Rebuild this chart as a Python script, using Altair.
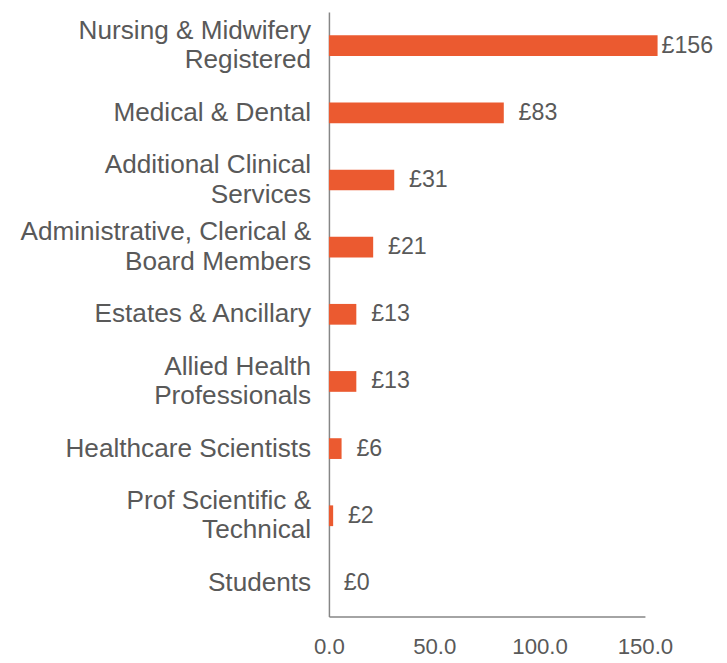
import altair as alt
import pandas as pd

categories = [
    "Nursing & Midwifery|Registered",
    "Medical & Dental",
    "Additional Clinical|Services",
    "Administrative, Clerical &|Board Members",
    "Estates & Ancillary",
    "Allied Health|Professionals",
    "Healthcare Scientists",
    "Prof Scientific &|Technical",
    "Students",
]
values = [156, 83, 31, 21, 13, 13, 6, 2, 0]
x_ticks = [0, 50, 100, 150]

df = pd.DataFrame({"category": categories, "value": values})

GREY = "#595959"
AXIS = "#868686"
FONT = "Liberation Sans"

y_base = alt.Y(
    "category:N",
    sort=categories,
    title=None,
    scale=alt.Scale(paddingInner=0, paddingOuter=0),
    axis=alt.Axis(labels=False, ticks=False, domainColor=AXIS, domainWidth=1.5),
)
y_plain = alt.Y("category:N", sort=categories)

x_enc = alt.X(
    "value:Q",
    title=None,
    scale=alt.Scale(domain=[0, 150], nice=False),
    axis=alt.Axis(
        values=x_ticks,
        format=".1f",
        grid=False,
        ticks=False,
        labelFontSize=22.5,
        labelFont=FONT,
        labelColor=GREY,
        labelPadding=20,
        domainColor=AXIS,
        domainWidth=1.5,
        labelFlush=False,
    ),
)

bars = alt.Chart(df).mark_bar(size=21, color="#EB5A30").encode(y=y_base, x=x_enc)

val_base = alt.Chart(df).transform_calculate(lbl="'£' + format(datum.value, '.0f')")
val_in = (
    val_base.transform_filter("datum.value <= 150")
    .mark_text(align="left", baseline="middle", dx=15, fontSize=23.5, font=FONT, color=GREY)
    .encode(y=y_plain, x=alt.X("value:Q"), text="lbl:N")
)
val_out = (
    val_base.transform_filter("datum.value > 150")
    .mark_text(align="left", baseline="middle", dx=4, fontSize=23.5, font=FONT, color=GREY)
    .encode(y=y_plain, x=alt.X("value:Q"), text="lbl:N")
)

cat_base = alt.Chart(df).transform_calculate(
    lines="split(datum.category, '|')",
    n="length(split(datum.category, '|'))",
)
cat_one = (
    cat_base.transform_filter("datum.n == 1")
    .mark_text(align="right", baseline="middle", fontSize=26.5, font=FONT, color=GREY, lineHeight=30)
    .encode(y=y_plain, x=alt.value(-18), text="lines:N")
)
cat_two = (
    cat_base.transform_filter("datum.n == 2")
    .mark_text(align="right", baseline="middle", dy=-15, fontSize=26.5, font=FONT, color=GREY, lineHeight=30)
    .encode(y=y_plain, x=alt.value(-18), text="lines:N")
)

chart = (
    alt.layer(bars, val_in, val_out, cat_one, cat_two)
    .properties(width=320, height=612, padding={"left": 12, "top": 0, "right": 5, "bottom": 5})
    .configure_view(stroke=None)
)

chart.save("out.html", embed_options={"renderer": "svg", "actions": False})
